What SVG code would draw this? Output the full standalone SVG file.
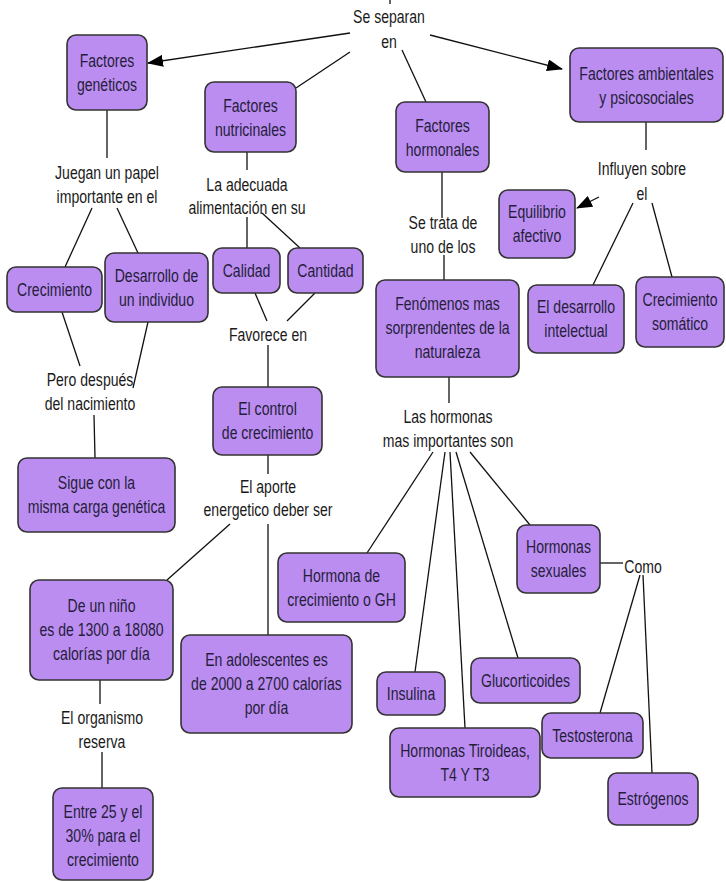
<svg xmlns="http://www.w3.org/2000/svg" width="726" height="882" viewBox="0 0 726 882">
<defs>
<style>
.n rect{fill:#BB8DF0;stroke:#333;stroke-width:1.6}
text{font-family:"Liberation Sans",Arial,sans-serif;font-size:18.5px;text-anchor:middle;fill:#1a1a1a}
.n text{fill:#261d3c}
.c line{stroke:#111;stroke-width:1.3;fill:none}
</style>
<marker id="ah" viewBox="0 0 16 12" refX="15" refY="6" markerWidth="16" markerHeight="12" markerUnits="userSpaceOnUse" orient="auto">
<path d="M0,0 L16,6 L0,12 Z" fill="#000"/>
</marker>
</defs>
<rect width="726" height="882" fill="#fff"/>
<g id="connectors" class="c">
<line x1="390" y1="0" x2="390" y2="4"/>
<line x1="350" y1="33" x2="148" y2="63" marker-end="url(#ah)"/>
<line x1="350" y1="52" x2="296" y2="88"/>
<line x1="402" y1="50" x2="426" y2="102"/>
<line x1="430" y1="35" x2="562" y2="69" marker-end="url(#ah)"/>
<line x1="107" y1="110" x2="107" y2="158"/>
<line x1="92" y1="208" x2="65" y2="267"/>
<line x1="117" y1="208" x2="138" y2="253"/>
<line x1="247" y1="152" x2="247" y2="170"/>
<line x1="247" y1="217" x2="247" y2="248"/>
<line x1="262" y1="213" x2="300" y2="248"/>
<line x1="255" y1="293" x2="267" y2="321"/>
<line x1="315" y1="293" x2="287" y2="321"/>
<line x1="268" y1="345" x2="268" y2="387"/>
<line x1="62" y1="312" x2="80" y2="366"/>
<line x1="148" y1="322" x2="133" y2="388"/>
<line x1="94" y1="415" x2="95" y2="458"/>
<line x1="268" y1="455" x2="268" y2="474"/>
<line x1="230" y1="524" x2="167" y2="580"/>
<line x1="268" y1="524" x2="268" y2="635"/>
<line x1="100" y1="680" x2="100" y2="704"/>
<line x1="102" y1="752" x2="102" y2="788"/>
<line x1="442" y1="172" x2="442" y2="218"/>
<line x1="444" y1="255" x2="444" y2="280"/>
<line x1="646" y1="122" x2="646" y2="150"/>
<line x1="599" y1="197" x2="577" y2="208" marker-end="url(#ah)"/>
<line x1="633" y1="203" x2="593" y2="285"/>
<line x1="652" y1="203" x2="672" y2="277"/>
<line x1="449" y1="377" x2="449" y2="403"/>
<line x1="433" y1="452" x2="367" y2="553"/>
<line x1="445" y1="452" x2="415" y2="672"/>
<line x1="450" y1="452" x2="465" y2="728"/>
<line x1="456" y1="452" x2="518" y2="658"/>
<line x1="470" y1="452" x2="530" y2="525"/>
<line x1="600" y1="563" x2="623" y2="563"/>
<line x1="640" y1="575" x2="600" y2="713"/>
<line x1="643" y1="575" x2="652" y2="773"/>
</g>
<g id="labels">
<text transform="translate(389,0) scale(0.76,1)"><tspan x="0" y="23">Se separan</tspan><tspan x="0" y="48">en</tspan></text>
<text transform="translate(107,0) scale(0.76,1)"><tspan x="0" y="179">Juegan un papel</tspan><tspan x="0" y="203">importante en el</tspan></text>
<text transform="translate(247,0) scale(0.76,1)"><tspan x="0" y="191">La adecuada</tspan><tspan x="0" y="214">alimentación en su</tspan></text>
<text transform="translate(642,0) scale(0.76,1)"><tspan x="0" y="175">Influyen sobre</tspan><tspan x="0" y="200">el</tspan></text>
<text transform="translate(443,0) scale(0.76,1)"><tspan x="0" y="229">Se trata de</tspan><tspan x="0" y="253">uno de los</tspan></text>
<text transform="translate(90,0) scale(0.76,1)"><tspan x="0" y="386">Pero después</tspan><tspan x="0" y="410">del nacimiento</tspan></text>
<text transform="translate(268,0) scale(0.76,1)"><tspan x="0" y="341">Favorece en</tspan></text>
<text transform="translate(448,0) scale(0.76,1)"><tspan x="0" y="423">Las hormonas</tspan><tspan x="0" y="447">mas importantes son</tspan></text>
<text transform="translate(268,0) scale(0.76,1)"><tspan x="0" y="493">El aporte</tspan><tspan x="0" y="516">energetico deber ser</tspan></text>
<text transform="translate(102,0) scale(0.76,1)"><tspan x="0" y="724">El organismo</tspan><tspan x="0" y="748">reserva</tspan></text>
<text transform="translate(643,0) scale(0.76,1)"><tspan x="0" y="573">Como</tspan></text>
</g>
<g id="n-geneticos" class="n"><rect x="67" y="35" width="80" height="75" rx="9"/><text transform="translate(107,0) scale(0.76,1)"><tspan x="0" y="67">Factores</tspan><tspan x="0" y="91">genéticos</tspan></text></g>
<g id="n-nutricinales" class="n"><rect x="205" y="82" width="91" height="70" rx="9"/><text transform="translate(250.5,0) scale(0.76,1)"><tspan x="0" y="112">Factores</tspan><tspan x="0" y="136">nutricinales</tspan></text></g>
<g id="n-hormonales" class="n"><rect x="396" y="102" width="93" height="70" rx="9"/><text transform="translate(442.5,0) scale(0.76,1)"><tspan x="0" y="132">Factores</tspan><tspan x="0" y="156">hormonales</tspan></text></g>
<g id="n-ambientales" class="n"><rect x="570" y="48" width="153" height="74" rx="9"/><text transform="translate(646.5,0) scale(0.76,1)"><tspan x="0" y="80">Factores ambientales</tspan><tspan x="0" y="104">y psicosociales</tspan></text></g>
<g id="n-equilibrio" class="n"><rect x="499" y="190" width="76" height="68" rx="9"/><text transform="translate(537,0) scale(0.76,1)"><tspan x="0" y="218">Equilibrio</tspan><tspan x="0" y="242">afectivo</tspan></text></g>
<g id="n-intelectual" class="n"><rect x="528" y="285" width="96" height="68" rx="9"/><text transform="translate(576,0) scale(0.76,1)"><tspan x="0" y="313">El desarrollo</tspan><tspan x="0" y="337">intelectual</tspan></text></g>
<g id="n-somatico" class="n"><rect x="636" y="277" width="88" height="70" rx="9"/><text transform="translate(680,0) scale(0.76,1)"><tspan x="0" y="306">Crecimiento</tspan><tspan x="0" y="330">somático</tspan></text></g>
<g id="n-fenomenos" class="n"><rect x="376" y="280" width="143" height="97" rx="9"/><text transform="translate(447.5,0) scale(0.76,1)"><tspan x="0" y="310">Fenómenos mas</tspan><tspan x="0" y="334">sorprendentes de la</tspan><tspan x="0" y="358">naturaleza</tspan></text></g>
<g id="n-crecimiento" class="n"><rect x="7" y="267" width="95" height="45" rx="9"/><text transform="translate(54.5,0) scale(0.76,1)"><tspan x="0" y="296">Crecimiento</tspan></text></g>
<g id="n-desarrollo" class="n"><rect x="105" y="253" width="103" height="69" rx="9"/><text transform="translate(156.5,0) scale(0.76,1)"><tspan x="0" y="282">Desarrollo de</tspan><tspan x="0" y="306">un individuo</tspan></text></g>
<g id="n-calidad" class="n"><rect x="213" y="248" width="67" height="45" rx="9"/><text transform="translate(246.5,0) scale(0.76,1)"><tspan x="0" y="277">Calidad</tspan></text></g>
<g id="n-cantidad" class="n"><rect x="288" y="248" width="75" height="45" rx="9"/><text transform="translate(325.5,0) scale(0.76,1)"><tspan x="0" y="277">Cantidad</tspan></text></g>
<g id="n-control" class="n"><rect x="213" y="387" width="109" height="68" rx="9"/><text transform="translate(267.5,0) scale(0.76,1)"><tspan x="0" y="415">El control</tspan><tspan x="0" y="439">de crecimiento</tspan></text></g>
<g id="n-sigue" class="n"><rect x="18" y="458" width="157" height="74" rx="9"/><text transform="translate(96.5,0) scale(0.76,1)"><tspan x="0" y="489">Sigue con la</tspan><tspan x="0" y="513">misma carga genética</tspan></text></g>
<g id="n-nino" class="n"><rect x="30" y="580" width="143" height="100" rx="9"/><text transform="translate(101.5,0) scale(0.76,1)"><tspan x="0" y="612">De un niño</tspan><tspan x="0" y="636">es de 1300 a 18080</tspan><tspan x="0" y="660">calorías por día</tspan></text></g>
<g id="n-adolescentes" class="n"><rect x="181" y="635" width="171" height="98" rx="9"/><text transform="translate(266.5,0) scale(0.76,1)"><tspan x="0" y="666">En adolescentes es</tspan><tspan x="0" y="690">de 2000 a 2700 calorías</tspan><tspan x="0" y="714">por día</tspan></text></g>
<g id="n-entre" class="n"><rect x="53" y="788" width="100" height="92" rx="9"/><text transform="translate(103,0) scale(0.76,1)"><tspan x="0" y="818">Entre 25 y el</tspan><tspan x="0" y="842">30% para el</tspan><tspan x="0" y="866">crecimiento</tspan></text></g>
<g id="n-gh" class="n"><rect x="278" y="553" width="127" height="69" rx="9"/><text transform="translate(341.5,0) scale(0.76,1)"><tspan x="0" y="582">Hormona de</tspan><tspan x="0" y="606">crecimiento o GH</tspan></text></g>
<g id="n-sexuales" class="n"><rect x="517" y="525" width="83" height="68" rx="9"/><text transform="translate(558.5,0) scale(0.76,1)"><tspan x="0" y="553">Hormonas</tspan><tspan x="0" y="577">sexuales</tspan></text></g>
<g id="n-insulina" class="n"><rect x="377" y="672" width="68" height="43" rx="9"/><text transform="translate(411,0) scale(0.76,1)"><tspan x="0" y="700">Insulina</tspan></text></g>
<g id="n-gluco" class="n"><rect x="471" y="658" width="109" height="45" rx="9"/><text transform="translate(525.5,0) scale(0.76,1)"><tspan x="0" y="687">Glucorticoides</tspan></text></g>
<g id="n-tiroideas" class="n"><rect x="390" y="728" width="150" height="69" rx="9"/><text transform="translate(465,0) scale(0.76,1)"><tspan x="0" y="757">Hormonas Tiroideas,</tspan><tspan x="0" y="781">T4 Y T3</tspan></text></g>
<g id="n-testosterona" class="n"><rect x="542" y="713" width="101" height="45" rx="9"/><text transform="translate(592.5,0) scale(0.76,1)"><tspan x="0" y="742">Testosterona</tspan></text></g>
<g id="n-estrogenos" class="n"><rect x="608" y="773" width="90" height="52" rx="9"/><text transform="translate(653,0) scale(0.76,1)"><tspan x="0" y="805">Estrógenos</tspan></text></g>
</svg>
